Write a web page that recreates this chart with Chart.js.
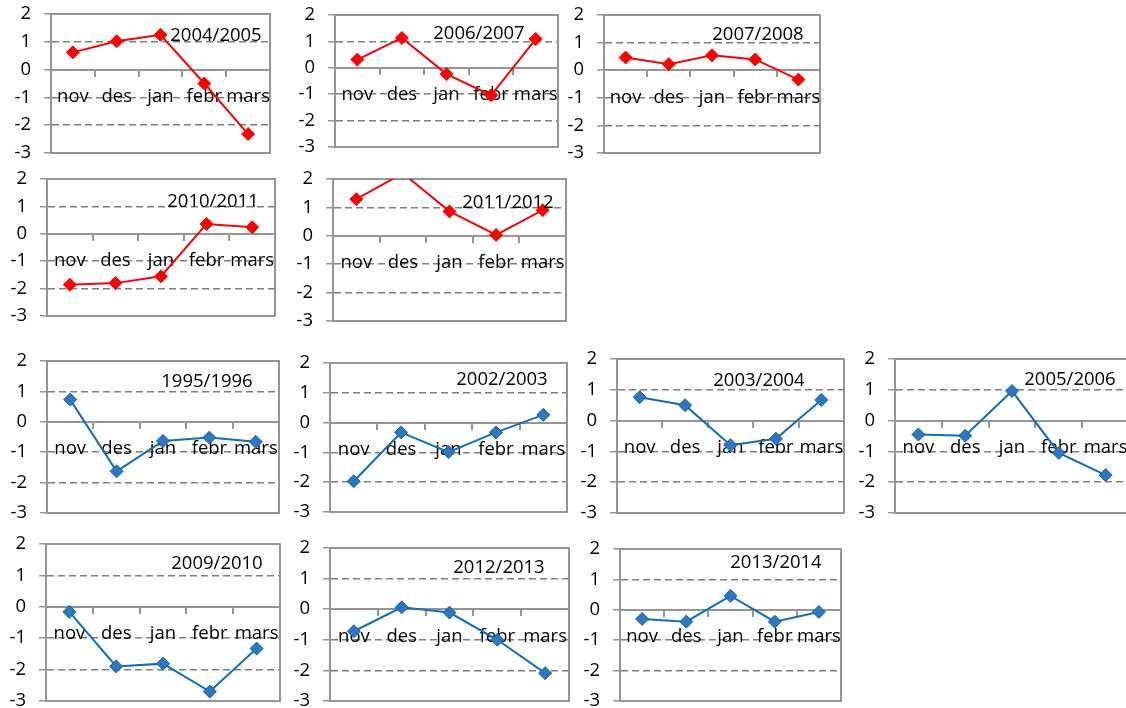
<!DOCTYPE html>
<html lang="no">
  <head>
    <meta charset="UTF-8" />
    <meta name="viewport" content="width=device-width, initial-scale=1.0" />
    <title>Vintersesonger</title>
    <script src="https://cdn.jsdelivr.net/npm/chart.js"></script>
    <style>
      body {
        margin: 0;
        width: 1126px;
        height: 708px;
        overflow: hidden;
        position: relative;
        background: #fff;
        font-family: "Open Sans", sans-serif;
      }
      canvas {
        position: absolute;
      }
      .season {
        position: absolute;
        width: 130px;
        text-align: center;
        font-size: 18.5px;
        line-height: 22px;
        color: #000;
      }
    </style>
  </head>
  <body>
    <div id="panels"></div>
  </body>
</html>

<script>
  const months = ["nov", "des", "jan", "febr", "mars"];
  const yTicks = [-3, -2, -1, 0, 1, 2];

  // red seasons
  const s2004_2005 = [0.62, 1.02, 1.25, -0.5, -2.32];
  const s2006_2007 = [0.31, 1.13, -0.24, -1.04, 1.09];
  const s2007_2008 = [0.46, 0.22, 0.54, 0.39, -0.34];
  const s2010_2011 = [-1.86, -1.8, -1.55, 0.36, 0.24];
  const s2011_2012 = [1.29, 2.2, 0.86, 0.03, 0.9];

  // blue seasons
  const s1995_1996 = [0.73, -1.63, -0.63, -0.52, -0.66];
  const s2002_2003 = [-1.97, -0.33, -0.99, -0.33, 0.26];
  const s2003_2004 = [0.76, 0.5, -0.8, -0.59, 0.67];
  const s2005_2006 = [-0.45, -0.49, 0.96, -1.05, -1.77];
  const s2009_2010 = [-0.16, -1.9, -1.81, -2.7, -1.33];
  const s2012_2013 = [-0.72, 0.06, -0.11, -1.0, -2.09];
  const s2013_2014 = [-0.3, -0.39, 0.46, -0.39, -0.07];

  const red = { line: "#ff0000", fill: "#ff0000", edge: "#ff0000" };
  const blue = { line: "#0b6fc0", fill: "#2a78c2", edge: "#1f5f9f" };

  const gray = "#959595";
  const dashGray = "#7f7f7f";
  const tickFont = { family: "'Open Sans', sans-serif", size: 18.5 };

  // plot area [left, top, right, bottom] and centre of the season label
  const panels = [
    { name: "2004/2005", values: s2004_2005, color: red, area: [51, 14, 270, 153], label: [216, 35] },
    { name: "2006/2007", values: s2006_2007, color: red, area: [335, 15, 558, 147], label: [479, 33] },
    { name: "2007/2008", values: s2007_2008, color: red, area: [604, 15, 820, 153], label: [758, 34] },
    { name: "2010/2011", values: s2010_2011, color: red, area: [47, 179, 275, 316], label: [213, 201] },
    { name: "2011/2012", values: s2011_2012, color: red, area: [333, 179, 566, 321], label: [508, 202] },
    { name: "1995/1996", values: s1995_1996, color: blue, area: [47, 361, 279, 513], label: [207, 381] },
    { name: "2002/2003", values: s2002_2003, color: blue, area: [330, 363, 567, 512], label: [502, 379] },
    { name: "2003/2004", values: s2003_2004, color: blue, area: [617, 359, 844, 513], label: [759, 380] },
    { name: "2005/2006", values: s2005_2006, color: blue, area: [895, 359, 1129, 513], label: [1070, 379] },
    { name: "2009/2010", values: s2009_2010, color: blue, area: [46, 544, 280, 701], label: [217, 563] },
    { name: "2012/2013", values: s2012_2013, color: blue, area: [330, 548, 569, 701], label: [499, 567] },
    { name: "2013/2014", values: s2013_2014, color: blue, area: [620, 549, 841, 701], label: [776, 562] },
  ];

  const AXIS_W = 70;
  const PAD = 30;

  // grey frame round the plot area
  const frame = {
    id: "frame",
    beforeDatasetsDraw(chart) {
      const { ctx, chartArea } = chart;
      ctx.save();
      ctx.strokeStyle = gray;
      ctx.lineWidth = 2;
      ctx.strokeRect(chartArea.left, chartArea.top, chartArea.width, chartArea.height);
      ctx.restore();
    },
  };

  function drawPanel(panel) {
    const holder = document.querySelector("#panels");
    const [left, top, right, bottom] = panel.area;

    const canvas = document.createElement("canvas");
    canvas.width = right - left + AXIS_W + PAD;
    canvas.height = bottom - top + PAD * 2;
    canvas.style.left = left - AXIS_W + "px";
    canvas.style.top = top - PAD + "px";
    holder.appendChild(canvas);

    const title = document.createElement("div");
    title.className = "season";
    title.textContent = panel.name;
    title.style.left = panel.label[0] - 65 + "px";
    title.style.top = panel.label[1] - 12 + "px";
    holder.appendChild(title);

    new Chart(canvas, {
      type: "line",
      data: {
        labels: months,
        datasets: [
          {
            data: panel.values,
            borderColor: panel.color.line,
            borderWidth: 2,
            pointStyle: "rectRot",
            pointRadius: 6.5,
            pointBorderWidth: 1,
            pointBackgroundColor: panel.color.fill,
            pointBorderColor: panel.color.edge,
            tension: 0,
            clip: 0,
          },
        ],
      },
      options: {
        responsive: false,
        animation: false,
        events: [],
        layout: { padding: { left: 0, top: PAD, right: PAD, bottom: PAD } },
        plugins: { legend: { display: false }, tooltip: { enabled: false } },
        scales: {
          x: {
            position: { y: 0 },
            offset: true,
            grid: {
              offset: true,
              drawOnChartArea: false,
              drawTicks: true,
              tickLength: 6,
              color: gray,
              lineWidth: 2,
            },
            border: { color: gray, width: 2 },
            ticks: { font: tickFont, color: "#000", padding: 10, maxRotation: 0, autoSkip: false },
          },
          y: {
            min: yTicks[0],
            max: yTicks[yTicks.length - 1],
            afterFit: (scale) => {
              scale.width = AXIS_W;
            },
            afterBuildTicks: (scale) => {
              scale.ticks = yTicks.map((v) => ({ value: v }));
            },
            grid: { color: dashGray, lineWidth: 1.5, tickLength: 7, tickColor: gray },
            border: { color: gray, width: 2, dash: [7, 4] },
            ticks: { font: tickFont, color: "#000", padding: 13 },
          },
        },
      },
      plugins: [frame],
    });
  }

  for (let i = 0; i < panels.length; i++) {
    drawPanel(panels[i]);
  }
</script>
